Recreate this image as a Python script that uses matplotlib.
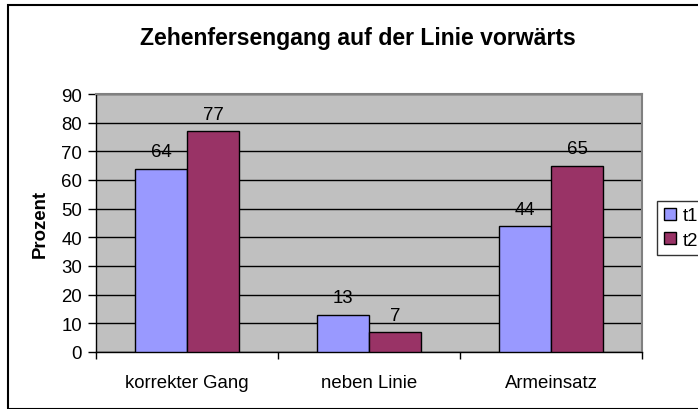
import numpy as np
import matplotlib
matplotlib.use("Agg")
import matplotlib.pyplot as plt
from matplotlib.patches import Rectangle

# Daten
categories = ["korrekter Gang", "neben Linie", "Armeinsatz"]
t1 = [64, 13, 44]
t2 = [77, 7, 65]
series_names = ["t1", "t2"]
colors = ["#9999FF", "#993366"]

plt.rcParams["font.family"] = ["Liberation Sans", "DejaVu Sans"]

W, H = 698, 410
fs = 13.4
fig = plt.figure(figsize=(W / 100, H / 100), dpi=100)

# Rahmen um das Diagramm
fig.patches.append(Rectangle((8 / W, 0), 2, 1 - 6 / H, transform=fig.transFigure,
                             fill=False, edgecolor="black", linewidth=1.5))

ax = fig.add_axes([96 / W, 1 - 353 / H, (642 - 96) / W, (353 - 95) / H])
ax.set_facecolor("#C0C0C0")

x = np.arange(len(categories))
bw = 1 / 3.5
for i, (vals, name, c) in enumerate(zip([t1, t2], series_names, colors)):
    pos = x + (i - 0.5) * bw
    ax.bar(pos, vals, width=bw, color=c, edgecolor="black", linewidth=1,
           label=name, zorder=3)
    for p, v in zip(pos, vals):
        ax.annotate(str(v), (p, v), xytext=(0, 6), textcoords="offset points",
                    ha="center", va="bottom", fontsize=fs)

ax.set_xlim(-0.5, len(categories) - 0.5)
ax.set_ylim(0, 90)
ax.set_yticks(range(0, 91, 10))
ax.yaxis.grid(True, color="black", linewidth=1, zorder=0)
ax.set_axisbelow(True)

ax.set_xticks(x)
ax.set_xticklabels(categories, fontsize=fs)
ax.set_xticks(np.arange(-0.5, len(categories) + 0.5, 1), minor=True)
ax.tick_params(axis="x", which="major", length=0, pad=16)
ax.tick_params(axis="x", which="minor", length=5, width=1, direction="out")
ax.tick_params(axis="y", length=6, width=1, direction="out", labelsize=fs, pad=4)

for s in ["top", "right"]:
    ax.spines[s].set_color("#808080")
    ax.spines[s].set_linewidth(1.5)
for s in ["left", "bottom"]:
    ax.spines[s].set_color("black")
    ax.spines[s].set_linewidth(1)

ax.set_ylabel("Prozent", fontsize=fs, fontweight="bold", labelpad=9)

fig.text(358 / W, 1 - 39 / H, "Zehenfersengang auf der Linie vorwärts",
         ha="center", va="center", fontsize=16.6, fontweight="bold")

leg = fig.legend(loc="center left", bbox_to_anchor=(657 / W, 1 - 229 / H),
                 fontsize=fs, frameon=True, fancybox=False, edgecolor="black",
                 handlelength=0.65, handleheight=0.65, handletextpad=0.4,
                 borderpad=0.35, labelspacing=0.4, borderaxespad=0)
leg.get_frame().set_linewidth(1)

fig.savefig("out.png", dpi=100)
